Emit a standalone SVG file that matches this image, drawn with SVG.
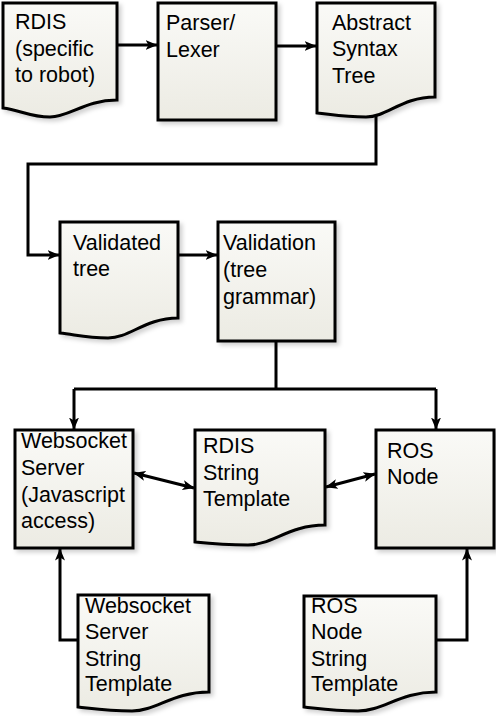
<svg xmlns="http://www.w3.org/2000/svg" width="496" height="716" viewBox="0 0 496 716">
<defs>
<linearGradient id="g" x1="0" y1="0" x2="0" y2="1">
<stop offset="0" stop-color="#fafaf7"/>
<stop offset="1" stop-color="#ecebe3"/>
</linearGradient>
<filter id="sh" x="-10%" y="-10%" width="130%" height="130%">
<feDropShadow dx="3" dy="3" stdDeviation="2" flood-color="#000" flood-opacity="0.18"/>
</filter>
<marker id="ah" viewBox="0 0 12 10" refX="11.5" refY="5" markerWidth="12" markerHeight="10" markerUnits="userSpaceOnUse" orient="auto-start-reverse">
<path d="M0,0 L12,5 L0,10 L3,5 Z" fill="#000"/>
</marker>
<style>
.n{fill:url(#g);stroke:#000;stroke-width:3;filter:url(#sh)}
.t{font-family:"Liberation Sans",Arial,sans-serif;font-size:21.5px;fill:#000}
.c{fill:none;stroke:#000;stroke-width:3}
</style>
</defs>
<g id="connectors">
<path class="c" d="M118,45 H157" marker-end="url(#ah)"/>
<path class="c" d="M276,46 H316" marker-end="url(#ah)"/>
<path class="c" d="M376,114 V164 H28 V255 H59" marker-end="url(#ah)"/>
<path class="c" d="M178,255 H217" marker-end="url(#ah)"/>
<path class="c" d="M276,341 V389 M74,389 H436 M74,389 V429" marker-end="url(#ah)"/>
<path class="c" d="M436,389 V429" marker-end="url(#ah)"/>
<path class="c" d="M134,473 L194,488" marker-start="url(#ah)" marker-end="url(#ah)"/>
<path class="c" d="M326,487 L375,474" marker-start="url(#ah)" marker-end="url(#ah)"/>
<path class="c" d="M78,640 H60 V549" marker-end="url(#ah)"/>
<path class="c" d="M436,640 H467 V549" marker-end="url(#ah)"/>
</g>
<g id="rdis">
<path class="n" d="M3,3 H117 V100 C85,100 70,117 50,117 C30,117 20,110 3,108 Z"/>
<text class="t" x="15" y="29">RDIS</text>
<text class="t" x="15" y="56">(specific</text>
<text class="t" x="15" y="82">to robot)</text>
</g>
<g id="parser">
<rect class="n" x="158" y="3" width="118" height="117"/>
<text class="t" x="166" y="30">Parser/</text>
<text class="t" x="166" y="57">Lexer</text>
</g>
<g id="ast">
<path class="n" d="M317,3 H435 V97 C402,97 387,117 366,117 C345,117 335,115 317,113 Z"/>
<text class="t" x="332" y="30">Abstract</text>
<text class="t" x="332" y="56">Syntax</text>
<text class="t" x="332" y="83">Tree</text>
</g>
<g id="validated">
<path class="n" d="M60,222 H178 V318 C145,318 130,338 108,338 C87,338 77,335 60,333 Z"/>
<text class="t" x="73" y="250">Validated</text>
<text class="t" x="73" y="276">tree</text>
</g>
<g id="validation">
<rect class="n" x="218" y="222" width="117" height="119"/>
<text class="t" x="223" y="250">Validation</text>
<text class="t" x="223" y="277">(tree</text>
<text class="t" x="223" y="304">grammar)</text>
</g>
<g id="websocket">
<rect class="n" x="15" y="430" width="118" height="118"/>
<text class="t" x="21" y="448">Websocket</text>
<text class="t" x="21" y="475">Server</text>
<text class="t" x="21" y="502">(Javascript</text>
<text class="t" x="21" y="528">access)</text>
</g>
<g id="rdis-template">
<path class="n" d="M195,430 H325 V525 C289,525 272,545 248,545 C225,545 214,544 195,542 Z"/>
<text class="t" x="203" y="453">RDIS</text>
<text class="t" x="203" y="480">String</text>
<text class="t" x="203" y="506">Template</text>
</g>
<g id="ros">
<rect class="n" x="376" y="430" width="118" height="118"/>
<text class="t" x="387" y="458">ROS</text>
<text class="t" x="387" y="484">Node</text>
</g>
<g id="ws-template">
<path class="n" d="M78,595 H209 V692 C173,692 156,711 132,711 C108,711 96,709 78,707 Z"/>
<text class="t" x="85" y="613">Websocket</text>
<text class="t" x="85" y="639">Server</text>
<text class="t" x="85" y="666">String</text>
<text class="t" x="85" y="691">Template</text>
</g>
<g id="ros-template">
<path class="n" d="M304,596 H436 V692 C400,692 383,711 358,711 C334,711 322,709 304,707 Z"/>
<text class="t" x="311" y="613">ROS</text>
<text class="t" x="311" y="639">Node</text>
<text class="t" x="311" y="666">String</text>
<text class="t" x="311" y="691">Template</text>
</g>
</svg>
